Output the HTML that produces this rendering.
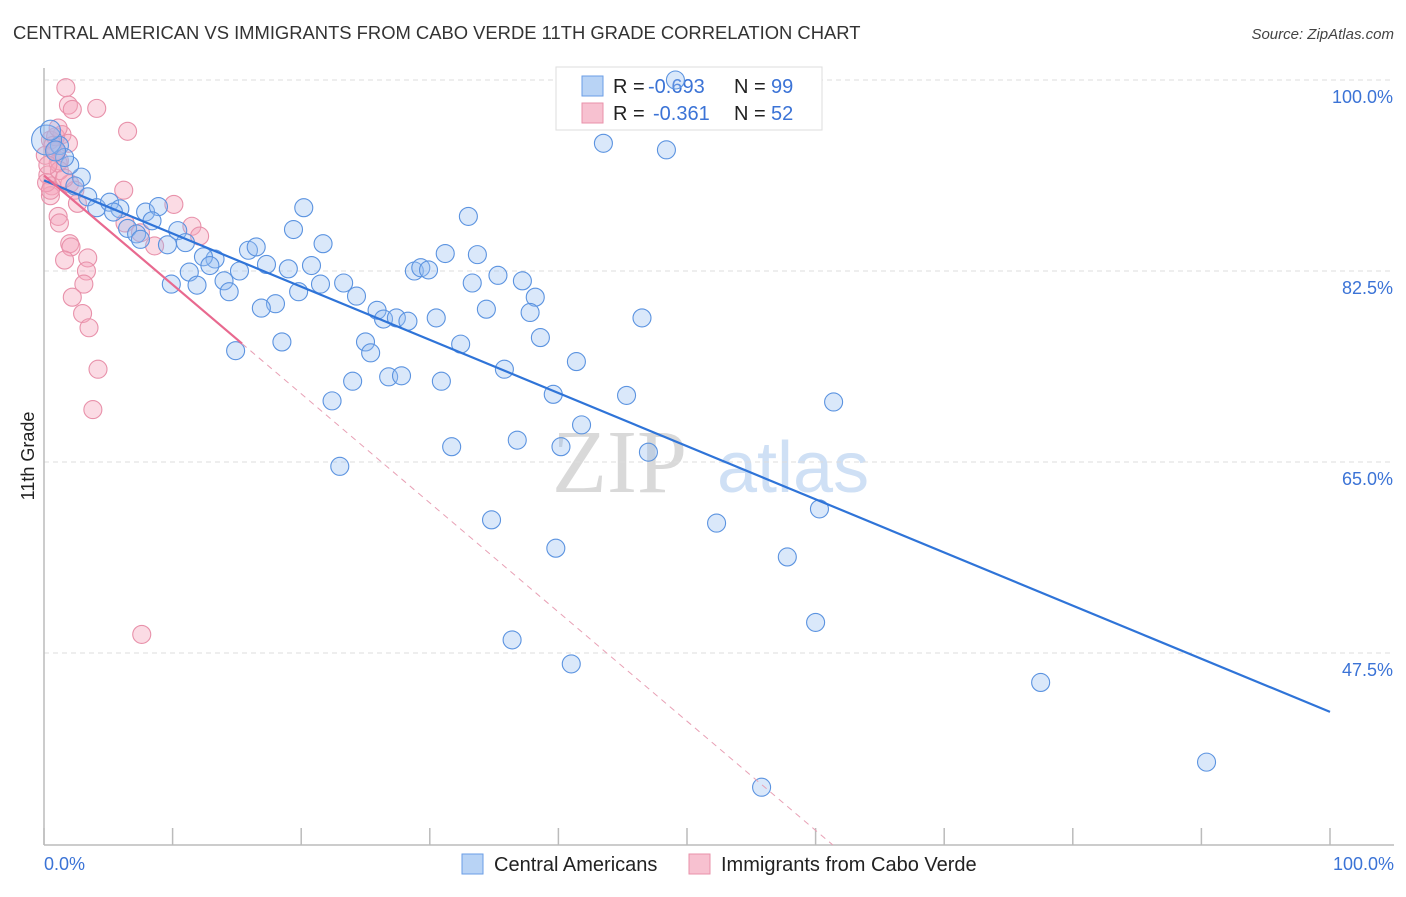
<!DOCTYPE html>
<html><head><meta charset="utf-8"><style>
body{margin:0;background:#fff;width:1406px;height:892px;overflow:hidden;font-family:"Liberation Sans",sans-serif}
</style></head><body>
<svg id="chart" width="1406" height="892" xmlns="http://www.w3.org/2000/svg" font-family="Liberation Sans, sans-serif">
<text x="13" y="39" font-size="18.4" fill="#333">CENTRAL AMERICAN VS IMMIGRANTS FROM CABO VERDE 11TH GRADE CORRELATION CHART</text>
<text x="1394" y="39" font-size="15" fill="#444" font-style="italic" text-anchor="end">Source: ZipAtlas.com</text>
<g font-size="90">
<text x="552" y="492" fill="#d9d9d9" font-family="Liberation Serif, serif">ZIP</text>
<text x="717" y="492" fill="#cfe0f5" font-size="72">atlas</text>
</g>
<g id="grid"></g>
<line x1="44" y1="68" x2="44" y2="845" stroke="#bbb" stroke-width="1.5"/>
<line x1="44" y1="845" x2="1394" y2="845" stroke="#bbb" stroke-width="1.5"/>
<g id="xticks"></g>
<text transform="translate(34,456) rotate(-90)" font-size="18" fill="#222" text-anchor="middle">11th Grade</text>
<text x="44" y="870" font-size="18" fill="#3b73d6">0.0%</text>
<text x="1394" y="870" font-size="18" fill="#3b73d6" text-anchor="end">100.0%</text>
<g>
<rect x="556" y="67" width="266" height="63" fill="#fff" stroke="#ddd"/>
<rect x="582" y="76" width="21" height="20" fill="#b8d3f5" stroke="#6a9ee6"/>
<rect x="582" y="103" width="21" height="20" fill="#f7c1d0" stroke="#e891aa"/>
<text x="613" y="93" font-size="20" fill="#222">R = <tspan fill="#3b73d6" x="648">-0.693</tspan><tspan x="734">N = </tspan><tspan fill="#3b73d6" x="771">99</tspan></text>
<text x="613" y="120" font-size="20" fill="#222">R = <tspan fill="#3b73d6" x="653">-0.361</tspan><tspan x="734">N = </tspan><tspan fill="#3b73d6" x="771">52</tspan></text>
</g>
<g id="pts"></g>
<g id="lines"></g>
<g font-size="20" fill="#222">
<rect x="462" y="854" width="21" height="20" fill="#b8d3f5" stroke="#6a9ee6"/>
<text x="494" y="871">Central Americans</text>
<rect x="689" y="854" width="21" height="20" fill="#f7c1d0" stroke="#e891aa"/>
<text x="721" y="871">Immigrants from Cabo Verde</text>
</g>
</svg>
<script>
const yTicks=[100,82.5,65,47.5];
const yTickLabels=["100.0%","82.5%","65.0%","47.5%"];
const xTicks=[0,10,20,30,40,50,60,70,80,90,100];
const blueX=[49.1,43.5,48.4,2.9,2.0,1.2,1.6,2.4,3.4,4.1,5.1,5.9,5.4,7.9,8.9,8.4,6.5,7.2,7.5,9.6,10.4,11.0,15.9,16.5,19.4,20.2,21.7,33.0,33.7,31.2,35.3,37.2,33.3,38.2,34.4,37.8,28.8,29.3,29.9,23.3,24.3,20.8,19.0,19.8,21.5,17.3,15.2,13.3,12.4,12.9,11.3,11.9,9.9,14.0,14.4,18.0,16.9,25.9,26.4,27.4,28.3,30.5,32.4,25.0,25.4,18.5,14.9,24.0,22.4,26.8,27.8,30.9,35.8,38.6,41.4,46.5,39.6,45.3,61.4,41.8,36.8,40.2,31.7,47.0,23.0,34.8,52.3,60.3,39.8,57.8,60.0,36.4,41.0,77.5,90.4,55.8,0.2,0.5,0.9];
const blueY=[100.0,94.2,93.6,91.1,92.2,94.0,92.9,90.3,89.3,88.3,88.8,88.2,87.9,87.9,88.4,87.1,86.4,85.9,85.4,84.9,86.2,85.1,84.4,84.7,86.3,88.3,85.0,87.5,84.0,84.1,82.1,81.6,81.4,80.1,79.0,78.7,82.5,82.8,82.6,81.4,80.2,83.0,82.7,80.6,81.3,83.1,82.5,83.6,83.8,83.0,82.4,81.2,81.3,81.6,80.6,79.5,79.1,78.9,78.1,78.2,77.9,78.2,75.8,76.0,75.0,76.0,75.2,72.4,70.6,72.8,72.9,72.4,73.5,76.4,74.2,78.2,71.2,71.1,70.5,68.4,67.0,66.4,66.4,65.9,64.6,59.7,59.4,60.7,57.1,56.3,50.3,48.7,46.5,44.8,37.5,35.2,94.5,95.4,93.5];
const blueR=[9,9,9,9,9,9,9,9,9,9,9,9,9,9,9,9,9,9,9,9,9,9,9,9,9,9,9,9,9,9,9,9,9,9,9,9,9,9,9,9,9,9,9,9,9,9,9,9,9,9,9,9,9,9,9,9,9,9,9,9,9,9,9,9,9,9,9,9,9,9,9,9,9,9,9,9,9,9,9,9,9,9,9,9,9,9,9,9,9,9,9,9,9,9,9,9,15,10,10];
const pinkX=[1.7,1.9,2.2,4.1,6.5,1.4,0.5,0.9,1.2,0.3,0.6,0.5,2.0,2.4,6.2,2.6,10.1,11.5,12.1,8.6,7.5,6.3,2.0,2.1,3.4,1.6,3.3,1.1,1.2,3.1,2.2,3.0,3.5,4.2,3.8,7.6,0.9,0.7,1.1,0.2,0.5,1.2,1.6,0.1,0.3,1.9,1.1];
const pinkY=[99.3,97.7,97.3,97.4,95.3,95.0,94.5,93.5,92.6,91.3,90.3,89.4,90.5,89.9,89.9,88.7,88.6,86.6,85.7,84.8,86.0,86.9,85.0,84.7,83.7,83.5,82.5,87.5,86.9,81.3,80.1,78.6,77.3,73.5,69.8,49.2,94.8,94.0,92.4,90.6,89.9,91.7,91.0,93.1,92.2,94.2,95.6];
const blueTrend=[90.8,42.1];
const pinkTrend=[91.25,-1.0];
const pinkSolidEnd=15.4;

const NS="http://www.w3.org/2000/svg";
const X=v=>44+v*12.86;
const Y=v=>80+(100-v)*10.914;
function mk(tag,attrs,parent){const e=document.createElementNS(NS,tag);for(const k in attrs)e.setAttribute(k,attrs[k]);parent.appendChild(e);return e;}
const grid=document.getElementById('grid');
yTicks.forEach((t,i)=>{
  const l=mk('line',{x1:44,x2:1394,y1:Y(t),y2:Y(t),stroke:'#ddd','stroke-dasharray':'5,4'},grid);
  
  
  const tx=mk('text',{x:1393,y:Y(t)+23,'font-size':18,fill:'#3b73d6','text-anchor':'end'},grid);
  tx.textContent=yTickLabels[i];
  
  
});
const xt=document.getElementById('xticks');
xTicks.forEach(t=>{
  const l=mk('line',{x1:X(t),x2:X(t),y1:828,y2:845,stroke:'#bbb','stroke-width':1.5},xt);
  
  
});
const pts=document.getElementById('pts');
pinkX.forEach((x,i)=>{
  const c=mk('circle',{cx:X(x),cy:Y(pinkY[i]),r:9,fill:'rgba(244,165,188,0.4)',stroke:'#e891aa','stroke-width':1.1},pts);
  
  
});
blueX.forEach((x,i)=>{
  const c=mk('circle',{cx:X(x),cy:Y(blueY[i]),r:blueR[i],fill:'rgba(150,190,240,0.35)',stroke:'#5b93e0','stroke-width':1.1},pts);
  
  
});
const lines=document.getElementById('lines');
const bl=mk('line',{x1:X(0),y1:Y(blueTrend[0]),x2:X(100),y2:Y(blueTrend[1]),stroke:'#2f74d8','stroke-width':2.2},lines);


const py=x=>pinkTrend[0]+pinkTrend[1]*x;
const pl=mk('line',{x1:X(0),y1:Y(py(0)),x2:X(pinkSolidEnd),y2:Y(py(pinkSolidEnd)),stroke:'#e8698f','stroke-width':2.2},lines);


const yBottom=100-(845-80)/10.914;
const xEnd=(yBottom-pinkTrend[0])/pinkTrend[1];
const pd=mk('line',{x1:X(pinkSolidEnd),y1:Y(py(pinkSolidEnd)),x2:X(xEnd),y2:Y(py(xEnd)),stroke:'#e8a0b5','stroke-width':1,'stroke-dasharray':'6,5'},lines);


</script>
</body></html>
